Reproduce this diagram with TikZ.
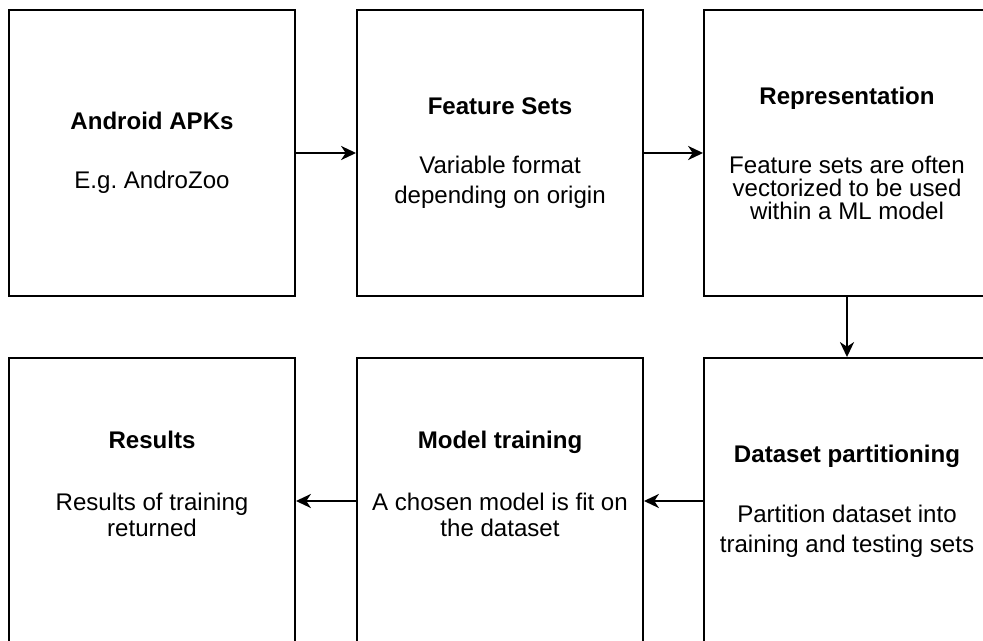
\documentclass[tikz,border=0pt]{standalone}
\usepackage{fontspec}
\setmainfont{Liberation Sans}
\usetikzlibrary{arrows.meta}
\frenchspacing

\begin{document}
\begin{tikzpicture}[>={Stealth[length=8.5pt,width=8pt,inset=2.6pt]},
    stage/.style={draw,line width=1.1pt,minimum width=5.72cm,minimum height=5.72cm,inner sep=0pt,align=center,font=\fontsize{13.7}{17}\selectfont},
    flow/.style={->,line width=1.1pt}]
      \clip (0,0) rectangle (19.66,-12.82);
      % top row
      \node[stage] (apks) at (3.04,-3.06) {\textbf{Android APKs}\\[16.6pt]E.g. AndroZoo};
      \node[stage] (features) at (10.0,-3.06) {\textbf{Feature Sets}\\[17.1pt]Variable format\\depending on origin};
      \node[stage,font=\fontsize{13.7}{13.1}\selectfont] (repr) at (16.94,-3.06) {\textbf{Representation}\\[26.2pt]Feature sets are often\\vectorized to be used\\within a ML model};
      % bottom row
      \node[stage,font=\fontsize{13.7}{14.8}\selectfont,text depth=0.68cm] (results) at (3.04,-10.02) {\textbf{Results}\\[20.5pt]Results of training\\returned};
      \node[stage,font=\fontsize{13.7}{14.8}\selectfont,text depth=0.68cm] (training) at (10.0,-10.02) {\textbf{Model training}\\[20.5pt]A chosen model is fit on\\the dataset};
      \node[stage] (split) at (16.94,-10.02) {\textbf{Dataset partitioning}\\[17.1pt]Partition dataset into\\training and testing sets};
      \draw[flow] (apks) -- (features);
      \draw[flow] (features) -- (repr);
      \draw[flow] (repr) -- (split);
      \draw[flow] (split) -- (training);
      \draw[flow] (training) -- (results);
\end{tikzpicture}
\end{document}
